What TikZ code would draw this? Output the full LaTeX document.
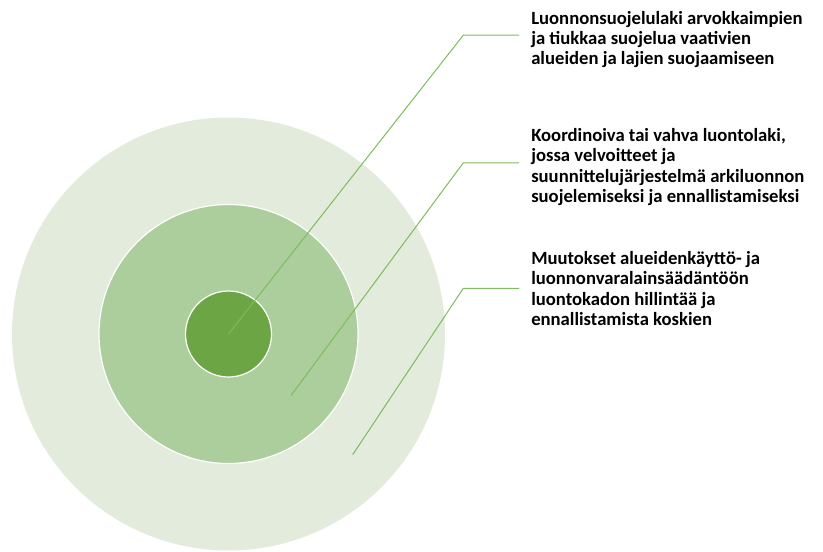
\documentclass[tikz,border=0pt]{standalone}
\usepackage{fontspec}
\setmainfont{Carlito}
\usetikzlibrary{calc}

\definecolor{ringout}{HTML}{E3EBDC}
\definecolor{ringmid}{HTML}{ABCE9C}
\definecolor{ringin}{HTML}{6CA543}
\definecolor{leadgreen}{HTML}{7CBC5E}

\tikzset{
  lead/.style={draw=leadgreen,line width=0.75pt},
  txt/.style={anchor=west,align=left,inner xsep=9pt,inner ysep=0pt,
    font=\fontsize{14}{15.3}\selectfont\bfseries}
}

\begin{document}
\begin{tikzpicture}[x=0.75pt,y=-0.75pt]
% Canvas
\useasboundingbox (0,0) rectangle (823,552);

% Rings
\fill[ringout] (228.5,334) circle (216.5);
\draw[fill=ringmid,draw=white,line width=0.9pt] (228.5,334) circle (129.5);
\draw[fill=ringin,draw=white,line width=0.9pt] (228.5,334) circle (43);

% Leader points
\coordinate (p1) at (228.5,334);
\coordinate (p2) at (291,395.5);
\coordinate (p3) at (352.7,454.7);
\foreach \k/\y in {1/35.2,2/162.8,3/288.3} {
  \coordinate (k\k) at (463.3,\y);
}

% Labels
\node[txt] (t1) at (519,39.5) {Luonnonsuojelulaki arvokkaimpien\\ja tiukkaa suojelua vaativien\\alueiden ja lajien suojaamiseen};
\node[txt] (t2) at (519,167) {Koordinoiva tai vahva luontolaki,\\jossa velvoitteet ja\\suunnittelujärjestelmä arkiluonnon\\suojelemiseksi ja ennallistamiseksi};
\node[txt] (t3) at (519,288.5) {Muutokset alueidenkäyttö- ja\\luonnonvaralainsäädäntöön\\luontokadon hillintää ja\\ennallistamista koskien};

% Leader lines
\foreach \k in {1,2,3} {
  \draw[lead] (p\k) -- (k\k) -- (k\k -| t\k.west);
}

\end{tikzpicture}
\end{document}
